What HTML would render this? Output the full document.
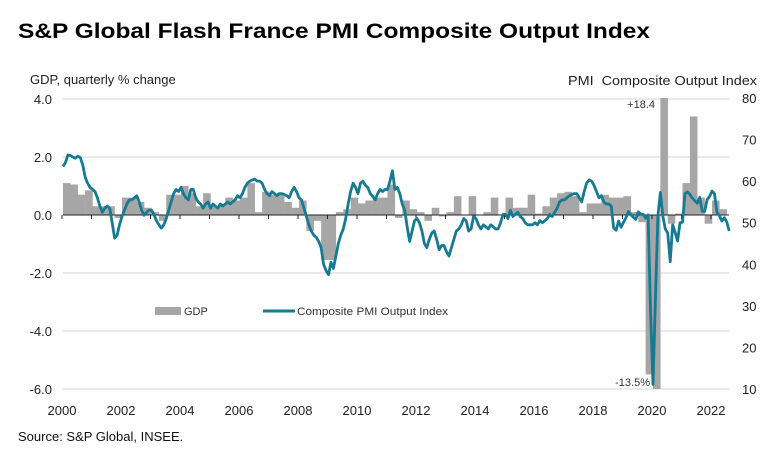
<!DOCTYPE html>
<html><head><meta charset="utf-8"><style>
body{margin:0;background:#fff;width:775px;height:459px;overflow:hidden}
svg{display:block;font-family:"Liberation Sans",Arial,sans-serif}
</style></head><body>
<svg id="chart" width="775" height="459" viewBox="0 0 775 459">
<text x="18" y="38" font-size="21" font-weight="bold" fill="#000" textLength="632" lengthAdjust="spacingAndGlyphs">S&amp;P Global Flash France PMI Composite Output Index</text>
<text x="30" y="84" font-size="13" fill="#222">GDP, quarterly % change</text>
<text x="568" y="85" font-size="13" fill="#222" style="white-space:pre" textLength="189" lengthAdjust="spacingAndGlyphs">PMI  Composite Output Index</text>
<g id="grid"></g>
<g id="bars"></g>
<line id="zero"></line>
<g id="ticks"></g>
<path id="pmi" fill="none" stroke="#157a92" stroke-width="2.8" stroke-linejoin="round"></path>
<g id="laxis"></g>
<g id="raxis"></g>
<g id="xaxis"></g>
<text x="655" y="108" font-size="11" fill="#333" text-anchor="end">+18.4</text>
<text x="650" y="386" font-size="11" fill="#333" text-anchor="end">-13.5%</text>
<g>
<rect x="155" y="307" width="26" height="8" fill="#a6a6a6"></rect>
<text x="184" y="315" font-size="11" fill="#333">GDP</text>
<line x1="263" y1="311" x2="295" y2="311" stroke="#157a92" stroke-width="3"></line>
<text x="297" y="315" font-size="11" fill="#333" textLength="151" lengthAdjust="spacingAndGlyphs">Composite PMI Output Index</text>
</g>
<text x="18" y="441" font-size="13" fill="#111">Source: S&amp;P Global, INSEE.</text>
</svg>
<script>
const gdp = [1.1,1.05,0.7,0.85, 0.3,0.3,0.3,-0.1, 0.6,0.6,0.45,0.25, 0.1,-0.2,0.7,0.7,
 1.0,0.75,0.3,0.75, 0.3,0.3,0.6,0.5, 0.6,1.1,0.1,0.8, 0.7,0.75,0.45,0.25,
 0.5,-0.55,-0.2,-1.55, -1.55,0.1,0.2,0.6, 0.4,0.5,0.6,0.6, 1.05,-0.1,0.5,0.2,
 0.1,-0.2,0.25,-0.05, 0.1,0.65,0.0,0.65, 0.02,0.1,0.6,0.0, 0.6,0.25,0.25,0.7,
 0.05,0.3,0.6,0.75, 0.8,0.65,0.1,0.4, 0.4,0.7,0.6,0.6, 0.65,0.1,-0.25,-5.5,
 -13.5,18.4,-0.3,0.05, 1.1,3.4,0.6,-0.3, 0.5,0.2];
const pmi = [
 63.5,64.5,66.3,66.2,65.8,65.5,66,65.7,64,61,59.5,58.5,
 58,57.5,56,54,52.5,53.5,54,53.5,50,46.3,47,49.5,
 51.5,53,54.5,55.5,55.5,56,56.5,55,53,51.8,52.5,53,
 53,52,50.5,49.5,48.7,49.5,51,53,55,57,58,57.5,
 58.5,57,56,55.5,58,58,56,55,54.5,53.5,54.5,55,
 53.5,54.5,54,53.5,54.5,54,54.5,55,54.5,55,55.5,56.5,
 56,57,58.5,59.5,60,60.3,60.5,60,60,59.5,58,57,
 56.5,57.5,57,56.5,57,57,56.8,56.5,56,57.5,58.5,57.5,
 56,55.5,53.5,51.5,49.5,48,47,46.5,45.5,44,40,38.5,
 37.5,40.5,39,42,45,47,48.5,51,54.5,57.5,59.5,58.5,
 57,59.5,60,59,58.5,57,56.3,55.5,57,58,57.5,58,
 58,60,62.5,58,58.5,57,54.5,53,49,45.5,48,50.5,
 51,50,48,45,44,46,47.5,48,46,43.5,44.5,44.5,
 43,42,44,46,48,48.5,49.5,51,50.5,48,48.5,51.5,
 51,49.5,48.5,49.5,49,48.5,49.5,49,48.5,48.5,50,52,
 52,51,53,51.5,52,52.5,51.5,51,50,49.5,49.5,49.5,
 50,49.5,50.5,50,50.5,51,52,51.5,52.5,53.5,55,55.5,
 55.5,56,56.5,56.8,57,57,56,55,57.5,59.5,60.3,60,
 59,57.5,56,56.5,55,54.5,54.5,54,48.7,48.2,50.4,48.9,
 50.1,51.2,52.7,51.9,51.3,50.8,52.6,52.1,52,51.1,51.9,28.9,
 11.1,32.1,51.7,57.3,51.6,48.5,47.5,40.6,49.5,47.7,45.6,50,
 50.1,57,57.4,56.8,55.9,55.3,54.7,56.1,52.8,52.7,55.5,56.3,
 57.6,57,52.5,51.7,50.4,51.2,50.2,48.0];
const leftTicks = ["4.0","2.0","0.0","-2.0","-4.0","-6.0"];
const leftVals = [4,2,0,-2,-4,-6];
const rightTicks = ["80","70","60","50","40","30","20","10"];
const rightVals = [80,70,60,50,40,30,20,10];
const years = ["2000","2002","2004","2006","2008","2010","2012","2014","2016","2018","2020","2022"];

const NS="http://www.w3.org/2000/svg";
const X0=63, X1=729, YT=98, YB=389;
const yL = v => 215 - v*29;
const yR = v => YT + (80 - v)*(YB-YT)/70;
const yearW = 29.5;
const xQ = i => X0 + i*yearW/4;
const xM = i => X0 + i*yearW/12;
const xYear = k => 62 + k*yearW;
function mk(tag, attrs, parent){const e=document.createElementNS(NS,tag);for(const k in attrs)e.setAttribute(k,attrs[k]);parent.appendChild(e);return e;}

const grid=document.getElementById('grid');
leftVals.forEach((v,k)=>{
  if(v===0) return;
  const g=mk('line',{x1:X0,x2:X1,y1:yL(v),y2:yL(v),stroke:'#d4d4d4','stroke-width':1},grid);
  
  
});
const la=document.getElementById('laxis');
leftVals.forEach((v,k)=>{
  const t=mk('text',{x:52,y:yL(v)+5,'font-size':13,fill:'#222','text-anchor':'end'},la);
  t.textContent=leftTicks[k];
  
  
});
const ra=document.getElementById('raxis');
rightVals.forEach((v,k)=>{
  const t=mk('text',{x:742,y:yR(v)+5,'font-size':13,fill:'#222'},ra);
  t.textContent=rightTicks[k];
  
  
});
const xa=document.getElementById('xaxis');
years.forEach((s,k)=>{
  const t=mk('text',{x:xYear(k*2),y:415,'font-size':13,fill:'#222','text-anchor':'middle'},xa);
  t.textContent=s;
  
  
});
const bars=document.getElementById('bars');
const bw=yearW/4;
gdp.forEach((v,i)=>{
  let y1=yL(Math.max(v,0)), y2=yL(Math.min(v,0));
  y1=Math.max(YT,y1); y2=Math.min(YB,y2);
  const r=mk('rect',{x:xQ(i).toFixed(2),y:y1.toFixed(2),width:(bw+0.2).toFixed(2),height:Math.max(0,y2-y1).toFixed(2),fill:'#a6a6a6'},bars);
  
  
});
const z=document.getElementById('zero');
z.setAttribute('x1',X0);z.setAttribute('x2',X1);z.setAttribute('y1',yL(0));z.setAttribute('y2',yL(0));
z.setAttribute('stroke','#222');z.setAttribute('stroke-width','1');
const tk=document.getElementById('ticks');
for(let k=0;k<=22;k++){
  const l=mk('line',{x1:xYear(k),x2:xYear(k),y1:yL(0),y2:yL(0)+4,stroke:'#222','stroke-width':1},tk);
  
  
}
document.getElementById('pmi').setAttribute('d', pmi.map((v,i)=>(i?'L':'M')+xM(i).toFixed(2)+','+yR(v).toFixed(2)).join(''));
</script>
</body></html>
